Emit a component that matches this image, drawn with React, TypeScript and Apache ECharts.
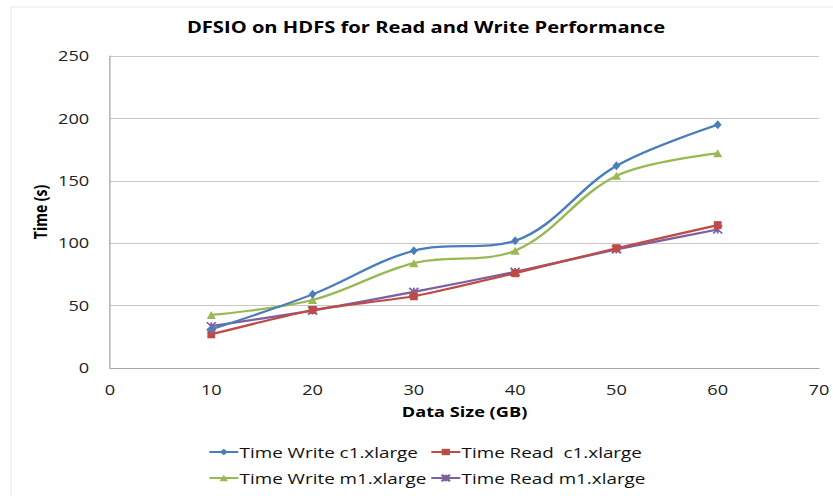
import React, { useEffect, useRef } from "react";
import * as echarts from "echarts";

const dataSizes = [10, 20, 30, 40, 50, 60];
const writeC1 = [31, 59, 94, 102, 162, 195];
const readC1 = [27, 46.5, 57.5, 76, 96, 114.5];
const writeM1 = [42.5, 54.5, 84, 94, 154, 172];
const readM1 = [33.5, 46, 61, 77, 95, 111];

const names = [
  "Time Write c1.xlarge",
  "Time Read  c1.xlarge",
  "Time Write m1.xlarge",
  "Time Read m1.xlarge",
];
const colors = ["#4a7ebb", "#be4b48", "#98b954", "#7d60a0"];
const FONT = "'Open Sans', 'Liberation Sans', sans-serif";

const W = 833;
const H = 496;
const S = 1.3; // horizontal stretch of the reference picture
const X = (px: number) => px / S;

export default function App() {
  const ref = useRef<HTMLDivElement>(null);
  useEffect(() => {
    if (!ref.current) return;
    const chart = echarts.init(ref.current, undefined, { renderer: "svg" });
    const seriesData = [writeC1, readC1, writeM1, readM1];
    const symbols = [
      "diamond",
      "rect",
      "triangle",
      "path://M0,0 L10,10 M10,0 L0,10 M5,0 L5,10",
    ];
    const sizes = [[6, 9], [6, 8], [7, 8], [7, 8]];
    const legendPos = [
      { left: X(208), top: 444 },
      { left: X(430), top: 444 },
      { left: X(208), top: 470 },
      { left: X(430), top: 470 },
    ];
    chart.setOption({
      animation: false,
      backgroundColor: "#fff",
      graphic: [
        {
          type: "rect",
          shape: { x: X(11), y: 7, width: W, height: H },
          style: { fill: "none", stroke: "#ececec", lineWidth: 1 },
          silent: true,
        },
      ],
      title: {
        text: "DFSIO on HDFS for Read and Write Performance",
        left: X(426),
        textAlign: "center",
        top: 19,
        padding: 0,
        textStyle: { fontFamily: FONT, fontSize: 15.5, fontWeight: "bold", color: "#000" },
      },
      legend: names.map((n, i) => ({
        data: [n],
        left: legendPos[i].left,
        top: legendPos[i].top,
        padding: 0,
        itemWidth: X(29),
        itemHeight: 8,
        itemGap: 2,
        textStyle: {
          fontFamily: FONT,
          fontSize: 14.5,
          lineHeight: 16,
          color: "#111",
          padding: [0, 0, 0, -4],
        },
      })),
      grid: { left: X(110), right: W / S - X(821), top: 56, bottom: H - 368 },
      xAxis: {
        type: "value",
        min: 0,
        max: 70,
        interval: 10,
        name: "Data Size (GB)",
        nameLocation: "middle",
        nameMoveOverlap: false,
        nameGap: 37,
        nameTextStyle: { fontFamily: FONT, fontSize: 14, fontWeight: "bold", color: "#000" },
        axisLine: { show: true, lineStyle: { color: "#a6a6a6" } },
        axisTick: { show: false },
        splitLine: { show: false },
        axisLabel: { fontFamily: FONT, fontSize: 14, color: "#222", margin: 15 },
      },
      yAxis: {
        type: "value",
        min: 0,
        max: 250,
        interval: 50,
        name: "Time (s)",
        nameLocation: "middle",
        nameMoveOverlap: false,
        nameGap: 47,
        nameTextStyle: { fontFamily: FONT, fontSize: 14, fontWeight: "bold", color: "#000" },
        axisLine: { show: true, lineStyle: { color: "#a6a6a6" } },
        axisTick: { show: false },
        splitLine: { show: true, lineStyle: { color: "#c8c8c8" } },
        axisLabel: { fontFamily: FONT, fontSize: 14, color: "#222", margin: 16 },
      },
      series: seriesData.map((d, i) => ({
        name: names[i],
        type: "line",
        smooth: i === 0 || i === 2 ? 0.35 : 0.15,
        data: dataSizes.map((x, j) => [x, d[j]]),
        symbol: symbols[i],
        symbolSize: sizes[i],
        showSymbol: true,
        color: colors[i],
        lineStyle: { width: 2.2, color: colors[i] },
        itemStyle: {
          color: colors[i],
          borderColor: colors[i],
          borderWidth: i === 3 ? 1.5 : 0,
        },
        z: 10 - i,
      })),
    });
    return () => chart.dispose();
  }, []);
  return (
    <div
      style={{
        position: "fixed",
        left: 0,
        top: 0,
        width: W,
        height: H,
        overflow: "hidden",
        background: "#fff",
      }}
    >
      <div
        ref={ref}
        style={{
          width: W / S,
          height: H,
          transform: `scaleX(${S})`,
          transformOrigin: "0 0",
        }}
      />
    </div>
  );
}
